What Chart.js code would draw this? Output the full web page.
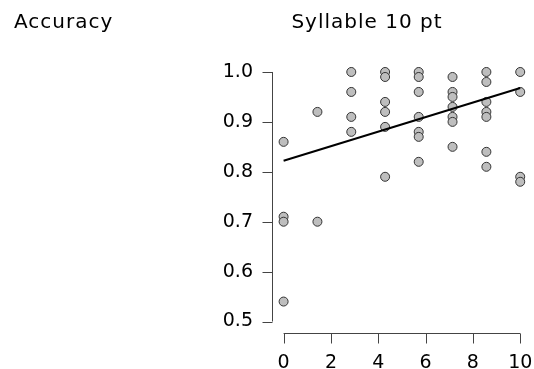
<!DOCTYPE html>
<html>
<head>
<meta charset="utf-8">
<script src="https://cdn.jsdelivr.net/npm/chart.js@4"></script>
<style>
  html, body { margin: 0; padding: 0; background: #fff; }
  #wrap { width: 534px; height: 369px; }
</style>
</head>
<body>
<div id="wrap"><canvas id="accChart"></canvas></div>
<script>
// syllable position (x) and accuracy (y) for each participant
const sylX = [
  0, 0, 0, 0,
  1.43, 1.43,
  2.86, 2.86, 2.86, 2.86,
  4.29, 4.29, 4.29, 4.29, 4.29, 4.29,
  5.71, 5.71, 5.71, 5.71, 5.71, 5.71, 5.71,
  7.14, 7.14, 7.14, 7.14, 7.14, 7.14, 7.14,
  8.57, 8.57, 8.57, 8.57, 8.57, 8.57, 8.57,
  10, 10, 10, 10
];
const accY = [
  0.86, 0.71, 0.70, 0.54,
  0.92, 0.70,
  1.00, 0.96, 0.91, 0.88,
  1.00, 0.99, 0.94, 0.92, 0.89, 0.79,
  1.00, 0.99, 0.96, 0.91, 0.88, 0.87, 0.82,
  0.99, 0.96, 0.95, 0.93, 0.91, 0.90, 0.85,
  1.00, 0.98, 0.94, 0.92, 0.91, 0.84, 0.81,
  1.00, 0.96, 0.79, 0.78
];
// fitted line ends
const fitX = [0, 10];
const fitY = [0.822, 0.968];

const xTicks = [0, 2, 4, 6, 8, 10];
const yTicks = [0.5, 0.6, 0.7, 0.8, 0.9, 1.0];

const yLabel = "Accuracy";
const titleText = "Syllable 10 pt";

const tickFont = { family: "DejaVu Sans", size: 19 };

// R-style axes: line only spans the tick range, ticks pointing out
const rAxes = {
  id: "rAxes",
  afterDraw(chart) {
    const ctx = chart.ctx;
    const xs = chart.scales.x, ys = chart.scales.y;
    const area = chart.chartArea;
    ctx.save();
    ctx.strokeStyle = "#444";
    ctx.lineWidth = 1;
    ctx.beginPath();
    // y axis
    const ax = Math.round(area.left) + 0.5;
    ctx.moveTo(ax, ys.getPixelForValue(yTicks[0]));
    ctx.lineTo(ax, ys.getPixelForValue(yTicks[yTicks.length - 1]));
    yTicks.forEach(v => {
      const py = Math.round(ys.getPixelForValue(v)) + 0.5;
      ctx.moveTo(ax, py);
      ctx.lineTo(ax - 10, py);
    });
    // x axis
    const ay = Math.round(area.bottom) + 0.5;
    ctx.moveTo(xs.getPixelForValue(xTicks[0]), ay);
    ctx.lineTo(xs.getPixelForValue(xTicks[xTicks.length - 1]), ay);
    xTicks.forEach(v => {
      const px = Math.round(xs.getPixelForValue(v)) + 0.5;
      ctx.moveTo(px, ay);
      ctx.lineTo(px, ay + 10);
    });
    ctx.stroke();

    // titles
    ctx.fillStyle = "#000";
    ctx.font = "20px 'DejaVu Sans'";
    ctx.letterSpacing = "1px";
    ctx.textBaseline = "alphabetic";
    ctx.textAlign = "left";
    ctx.fillText(yLabel, 14, 28);
    ctx.textAlign = "center";
    ctx.fillText(titleText, 367, 28);
    ctx.restore();
  }
};

new Chart(document.getElementById("accChart"), {
  type: "scatter",
  data: {
    datasets: [
      {
        type: "line",
        data: fitX.map((x, i) => ({ x: x, y: fitY[i] })),
        borderColor: "#000",
        borderWidth: 2,
        pointRadius: 0,
        fill: false,
        order: 0,
      },
      {
        data: sylX.map((x, i) => ({ x: x, y: accY[i] })),
        backgroundColor: "#bebebe",
        borderColor: "#333",
        borderWidth: 1,
        pointRadius: 4.5,
        order: 1,
      },
    ],
  },
  options: {
    responsive: true,
    maintainAspectRatio: false,
    animation: false,
    layout: { padding: { top: 62, right: 2, left: 0, bottom: 0 } },
    plugins: {
      legend: { display: false },
      tooltip: { enabled: false },
    },
    scales: {
      x: {
        type: "linear",
        min: -0.49,
        max: 10.35,
        grid: { display: false, drawTicks: false },
        border: { display: false },
        afterBuildTicks: (s) => { s.ticks = xTicks.map(v => ({ value: v })); },
        afterFit: (s) => { s.height = 36; s.paddingLeft = 0; s.paddingRight = 0; },
        ticks: {
          font: tickFont,
          color: "#000",
          padding: 19,
          maxRotation: 0,
          callback: (v) => String(v),
        },
      },
      y: {
        type: "linear",
        min: 0.477,
        max: 1.02,
        grid: { display: false, drawTicks: false },
        border: { display: false },
        afterBuildTicks: (s) => { s.ticks = yTicks.map(v => ({ value: v })); },
        afterFit: (s) => { s.width = 272; },
        ticks: {
          font: tickFont,
          color: "#000",
          padding: 19,
          callback: (v) => Number(v).toFixed(1),
        },
      },
    },
  },
  plugins: [rAxes],
});
</script>
</body>
</html>
